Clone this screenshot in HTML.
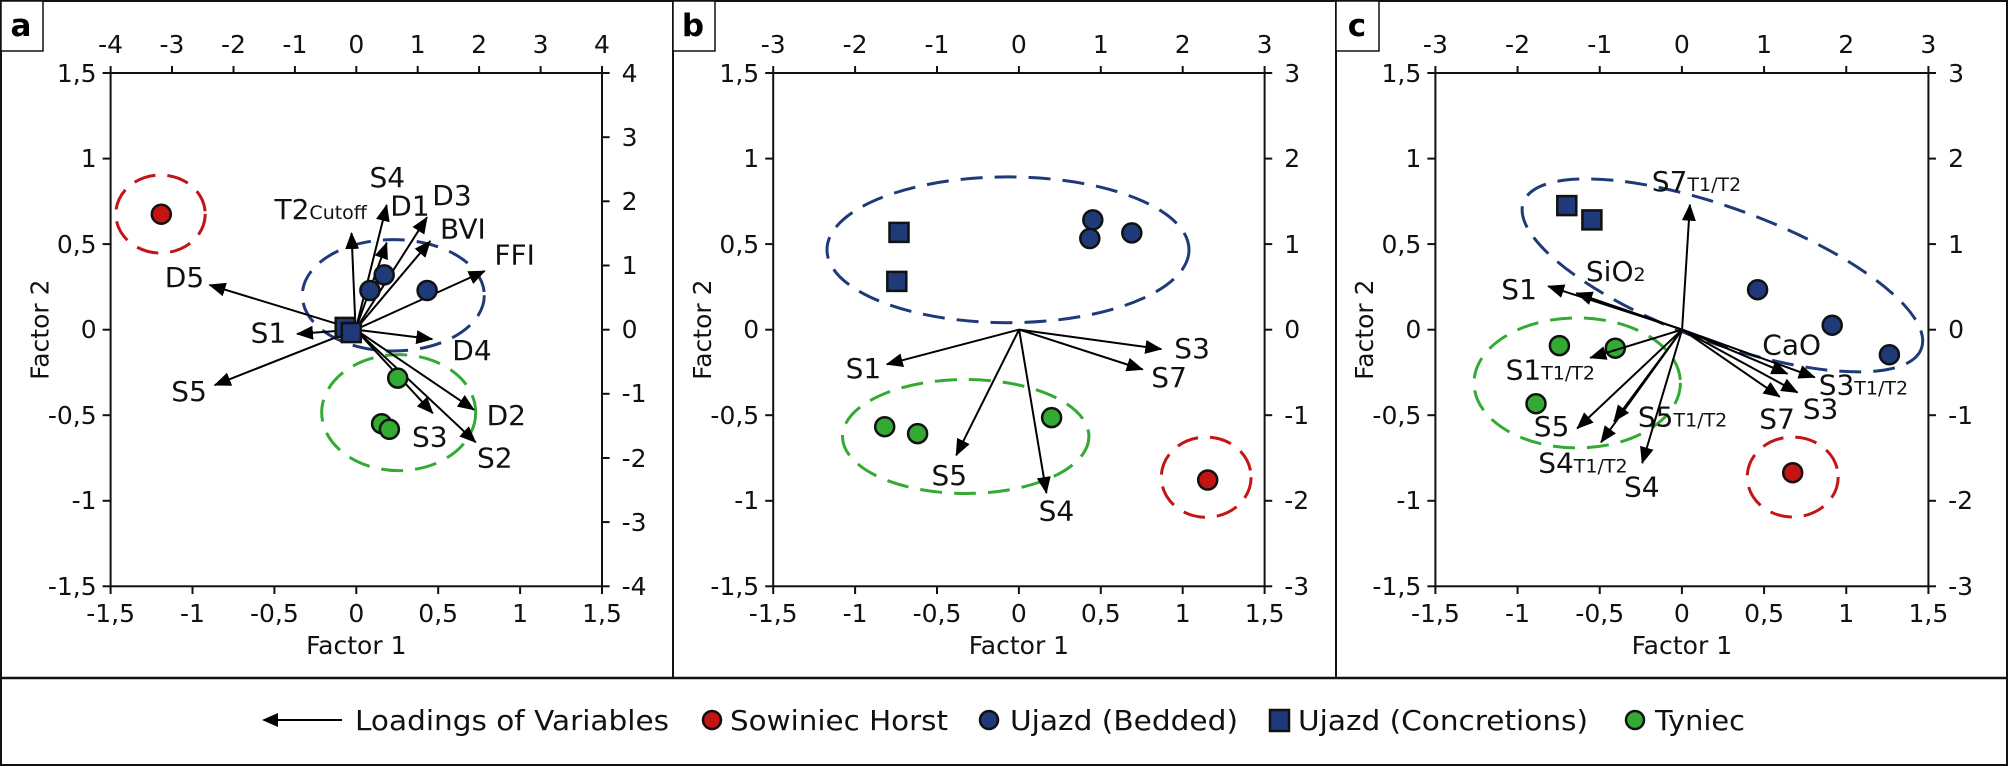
<!DOCTYPE html>
<html><head><meta charset="utf-8"><style>
html,body{margin:0;padding:0;background:#fff;}
svg{display:block;font-family:"DejaVu Sans","Liberation Sans",sans-serif;}
.t{font-size:25px;fill:#111;}
.l{font-size:28px;fill:#111;}
.s{font-size:19px;fill:#111;}
.ax line{stroke:#111;stroke-width:2;}
.ar{stroke:#000;stroke-width:2;marker-end:url(#ah);fill:none;}
.cb{fill:#1f3a78;stroke:#111;stroke-width:2.5;}
.cg{fill:#33aa33;stroke:#111;stroke-width:2.5;}
.cr{fill:#c41414;stroke:#111;stroke-width:2.5;}
.eb{fill:none;stroke:#1f3a78;stroke-width:3;stroke-dasharray:22 12;}
.eg{fill:none;stroke:#33aa33;stroke-width:3;stroke-dasharray:22 12;}
.er{fill:none;stroke:#c41414;stroke-width:3;stroke-dasharray:22 12;}
</style></head><body>
<svg width="2008" height="767" viewBox="0 0 2008 767" xmlns="http://www.w3.org/2000/svg">
<defs>
<marker id="ah" markerUnits="userSpaceOnUse" markerWidth="18" markerHeight="14" refX="16" refY="7" orient="auto">
<path d="M0,0 L17,7 L0,14 Z" fill="#000"/>
</marker>
<g id="frame">
<rect x="0" y="73" width="491.4" height="513.3" fill="none" stroke="#111" stroke-width="2"/>
<g class="ax">
<line x1="0" y1="586" x2="0" y2="594"/><line x1="81.9" y1="586" x2="81.9" y2="594"/><line x1="163.8" y1="586" x2="163.8" y2="594"/><line x1="245.7" y1="586" x2="245.7" y2="594"/><line x1="327.6" y1="586" x2="327.6" y2="594"/><line x1="409.5" y1="586" x2="409.5" y2="594"/><line x1="491.4" y1="586" x2="491.4" y2="594"/>
<line x1="-8" y1="73" x2="0" y2="73"/><line x1="-8" y1="158.6" x2="0" y2="158.6"/><line x1="-8" y1="244.1" x2="0" y2="244.1"/><line x1="-8" y1="329.7" x2="0" y2="329.7"/><line x1="-8" y1="415.2" x2="0" y2="415.2"/><line x1="-8" y1="500.8" x2="0" y2="500.8"/><line x1="-8" y1="586.3" x2="0" y2="586.3"/>
</g>
<g class="t" text-anchor="middle">
<text x="0" y="622">-1,5</text><text x="81.9" y="622">-1</text><text x="163.8" y="622">-0,5</text><text x="245.7" y="622">0</text><text x="327.6" y="622">0,5</text><text x="409.5" y="622">1</text><text x="491.4" y="622">1,5</text>
</g>
<g class="t" text-anchor="end">
<text x="-14" y="82">1,5</text><text x="-14" y="167">1</text><text x="-14" y="253">0,5</text><text x="-14" y="338">0</text><text x="-14" y="424">-0,5</text><text x="-14" y="509">-1</text><text x="-14" y="595">-1,5</text>
</g>
<text class="t" x="245.7" y="654" text-anchor="middle">Factor 1</text>
<text class="t" transform="translate(-62,329.7) rotate(-90)" text-anchor="middle">Factor 2</text>
</g>
</defs>

<rect x="1" y="1" width="2006" height="764" fill="none" stroke="#111" stroke-width="2"/>
<line x1="0" y1="678" x2="2008" y2="678" stroke="#111" stroke-width="2.5"/>
<line x1="673" y1="0" x2="673" y2="678" stroke="#111" stroke-width="2"/>
<line x1="1336" y1="0" x2="1336" y2="678" stroke="#111" stroke-width="2"/>

<rect x="1" y="1" width="42" height="50" fill="#fff" stroke="#111" stroke-width="1.5"/>
<text x="21" y="36" text-anchor="middle" style="font-size:31px;font-weight:bold">a</text>
<rect x="673" y="1" width="42" height="50" fill="#fff" stroke="#111" stroke-width="1.5"/>
<text x="693" y="36" text-anchor="middle" style="font-size:31px;font-weight:bold">b</text>
<rect x="1336" y="1" width="43" height="50" fill="#fff" stroke="#111" stroke-width="1.5"/>
<text x="1357" y="36" text-anchor="middle" style="font-size:31px;font-weight:bold">c</text>

<!-- Panel a -->
<g transform="translate(110.6,0)">
<use href="#frame"/>
<g class="ax">
<line x1="0" y1="73" x2="0" y2="66"/><line x1="61.4" y1="73" x2="61.4" y2="66"/><line x1="122.9" y1="73" x2="122.9" y2="66"/><line x1="184.3" y1="73" x2="184.3" y2="66"/><line x1="245.7" y1="73" x2="245.7" y2="66"/><line x1="307.1" y1="73" x2="307.1" y2="66"/><line x1="368.5" y1="73" x2="368.5" y2="66"/><line x1="430" y1="73" x2="430" y2="66"/><line x1="491.4" y1="73" x2="491.4" y2="66"/>
<line x1="491.4" y1="73" x2="499" y2="73"/><line x1="491.4" y1="137.2" x2="499" y2="137.2"/><line x1="491.4" y1="201.3" x2="499" y2="201.3"/><line x1="491.4" y1="265.5" x2="499" y2="265.5"/><line x1="491.4" y1="329.7" x2="499" y2="329.7"/><line x1="491.4" y1="393.8" x2="499" y2="393.8"/><line x1="491.4" y1="458" x2="499" y2="458"/><line x1="491.4" y1="522.1" x2="499" y2="522.1"/><line x1="491.4" y1="586.3" x2="499" y2="586.3"/>
</g>
<g class="t" text-anchor="middle">
<text x="0" y="53">-4</text><text x="61.4" y="53">-3</text><text x="122.9" y="53">-2</text><text x="184.3" y="53">-1</text><text x="245.7" y="53">0</text><text x="307.1" y="53">1</text><text x="368.5" y="53">2</text><text x="430" y="53">3</text><text x="491.4" y="53">4</text>
</g>
<g class="t">
<text x="511" y="82">4</text><text x="511" y="146">3</text><text x="511" y="210">2</text><text x="511" y="274">1</text><text x="511" y="338">0</text><text x="511" y="402">-1</text><text x="511" y="467">-2</text><text x="511" y="531">-3</text><text x="511" y="595">-4</text>
</g>
</g>
<g>
<ellipse class="er" cx="160.5" cy="214" rx="44.7" ry="39"/>
<ellipse class="eb" cx="393.3" cy="295.3" rx="91" ry="55.7"/>
<ellipse class="eg" cx="398.7" cy="412.6" rx="77" ry="58"/>
<circle class="cr" cx="161.3" cy="214.2" r="9.5"/>
<line class="ar" x1="355.6" y1="329.6" x2="351.5" y2="233"/>
<line class="ar" x1="355.6" y1="329.6" x2="386.7" y2="205"/>
<line class="ar" x1="355.6" y1="329.6" x2="386.7" y2="242.7"/>
<line class="ar" x1="355.6" y1="329.6" x2="427" y2="217.3"/>
<line class="ar" x1="355.6" y1="329.6" x2="430.3" y2="241"/>
<line class="ar" x1="355.6" y1="329.6" x2="484.8" y2="271"/>
<line class="ar" x1="355.6" y1="329.6" x2="209.5" y2="284.9"/>
<line class="ar" x1="355.6" y1="329.6" x2="297" y2="333.9"/>
<line class="ar" x1="355.6" y1="329.6" x2="432.3" y2="339.1"/>
<line class="ar" x1="355.6" y1="329.6" x2="214.7" y2="385.1"/>
<line class="ar" x1="355.6" y1="329.6" x2="432.8" y2="413.3"/>
<line class="ar" x1="355.6" y1="329.6" x2="474" y2="409.8"/>
<line class="ar" x1="355.6" y1="329.6" x2="475.7" y2="442.3"/>
<circle class="cb" cx="369.9" cy="290.5" r="9.5"/>
<circle class="cb" cx="384.2" cy="274.9" r="9.5"/>
<circle class="cb" cx="427.1" cy="290.5" r="9.5"/>
<rect class="cb" x="335.7" y="317.9" width="19" height="19"/>
<rect class="cb" x="341.8" y="323.1" width="19" height="19"/>
<circle class="cg" cx="397.7" cy="378.1" r="9.5"/>
<circle class="cg" cx="381.6" cy="423.7" r="9.5"/>
<circle class="cg" cx="389.4" cy="429.3" r="9.5"/>
<g class="l">
<text x="369.5" y="187">S4</text>
<text x="274.5" y="219">T2<tspan style="font-size:19px">Cutoff</tspan></text>
<text x="390.3" y="215.5">D1</text>
<text x="432.3" y="205">D3</text>
<text x="440" y="238.5">BVI</text>
<text x="494.4" y="264.5">FFI</text>
<text x="164.8" y="287">D5</text>
<text x="250.6" y="342.6">S1</text>
<text x="452.3" y="360">D4</text>
<text x="171.3" y="401">S5</text>
<text x="486.6" y="425">D2</text>
<text x="412" y="446.7">S3</text>
<text x="477" y="467.5">S2</text>
</g>
</g>

<!-- Panel b -->
<g transform="translate(773.2,0)">
<use href="#frame"/>
<g class="ax">
<line x1="0" y1="73" x2="0" y2="66"/><line x1="81.9" y1="73" x2="81.9" y2="66"/><line x1="163.8" y1="73" x2="163.8" y2="66"/><line x1="245.7" y1="73" x2="245.7" y2="66"/><line x1="327.6" y1="73" x2="327.6" y2="66"/><line x1="409.5" y1="73" x2="409.5" y2="66"/><line x1="491.4" y1="73" x2="491.4" y2="66"/>
<line x1="491.4" y1="73" x2="499" y2="73"/><line x1="491.4" y1="158.6" x2="499" y2="158.6"/><line x1="491.4" y1="244.1" x2="499" y2="244.1"/><line x1="491.4" y1="329.7" x2="499" y2="329.7"/><line x1="491.4" y1="415.2" x2="499" y2="415.2"/><line x1="491.4" y1="500.8" x2="499" y2="500.8"/><line x1="491.4" y1="586.3" x2="499" y2="586.3"/>
</g>
<g class="t" text-anchor="middle">
<text x="0" y="53">-3</text><text x="81.9" y="53">-2</text><text x="163.8" y="53">-1</text><text x="245.7" y="53">0</text><text x="327.6" y="53">1</text><text x="409.5" y="53">2</text><text x="491.4" y="53">3</text>
</g>
<g class="t">
<text x="511" y="82">3</text><text x="511" y="167">2</text><text x="511" y="253">1</text><text x="511" y="338">0</text><text x="511" y="424">-1</text><text x="511" y="509">-2</text><text x="511" y="595">-3</text>
</g>
</g>
<g>
<ellipse class="eb" cx="1008" cy="249.8" rx="181" ry="72.9"/>
<ellipse class="eg" cx="965.7" cy="436.5" rx="123.2" ry="57"/>
<ellipse class="er" cx="1206.2" cy="477.2" rx="44.9" ry="40.1"/>
<rect class="cb" x="889.5" y="222.9" width="19" height="19"/>
<rect class="cb" x="887.3" y="271.9" width="19" height="19"/>
<circle class="cb" cx="1092.8" cy="219.9" r="9.5"/>
<circle class="cb" cx="1089.8" cy="238.5" r="9.5"/>
<circle class="cb" cx="1131.8" cy="232.9" r="9.5"/>
<circle class="cg" cx="884.7" cy="426.7" r="9.5"/>
<circle class="cg" cx="917.6" cy="433.6" r="9.5"/>
<circle class="cg" cx="1051.6" cy="417.6" r="9.5"/>
<circle class="cr" cx="1207.7" cy="480" r="9.5"/>
<line class="ar" x1="1019.1" y1="329.6" x2="886.8" y2="364.3"/>
<line class="ar" x1="1019.1" y1="329.6" x2="956.2" y2="455.3"/>
<line class="ar" x1="1019.1" y1="329.6" x2="1046.4" y2="493"/>
<line class="ar" x1="1019.1" y1="329.6" x2="1161.3" y2="349.1"/>
<line class="ar" x1="1019.1" y1="329.6" x2="1142.7" y2="369.5"/>
<g class="l">
<text x="845.6" y="378">S1</text>
<text x="931.5" y="485">S5</text>
<text x="1038.6" y="520.4">S4</text>
<text x="1174.3" y="358.2">S3</text>
<text x="1151.3" y="387.2">S7</text>
</g>
</g>

<!-- Panel c -->
<g transform="translate(1435.4,0) scale(1.0033,1)">
<use href="#frame"/>
<g class="ax">
<line x1="0" y1="73" x2="0" y2="66"/><line x1="81.9" y1="73" x2="81.9" y2="66"/><line x1="163.8" y1="73" x2="163.8" y2="66"/><line x1="245.7" y1="73" x2="245.7" y2="66"/><line x1="327.6" y1="73" x2="327.6" y2="66"/><line x1="409.5" y1="73" x2="409.5" y2="66"/><line x1="491.4" y1="73" x2="491.4" y2="66"/>
<line x1="491.4" y1="73" x2="499" y2="73"/><line x1="491.4" y1="158.6" x2="499" y2="158.6"/><line x1="491.4" y1="244.1" x2="499" y2="244.1"/><line x1="491.4" y1="329.7" x2="499" y2="329.7"/><line x1="491.4" y1="415.2" x2="499" y2="415.2"/><line x1="491.4" y1="500.8" x2="499" y2="500.8"/><line x1="491.4" y1="586.3" x2="499" y2="586.3"/>
</g>
<g class="t" text-anchor="middle">
<text x="0" y="53">-3</text><text x="81.9" y="53">-2</text><text x="163.8" y="53">-1</text><text x="245.7" y="53">0</text><text x="327.6" y="53">1</text><text x="409.5" y="53">2</text><text x="491.4" y="53">3</text>
</g>
<g class="t">
<text x="511" y="82">3</text><text x="511" y="167">2</text><text x="511" y="253">1</text><text x="511" y="338">0</text><text x="511" y="424">-1</text><text x="511" y="509">-2</text><text x="511" y="595">-3</text>
</g>
</g>
<g>
<ellipse class="eb" cx="1722.4" cy="275.4" rx="212" ry="67" transform="rotate(20.2 1722.4 275.4)"/>
<ellipse class="eg" cx="1577.2" cy="382.9" rx="103.2" ry="65"/>
<ellipse class="er" cx="1792.7" cy="477" rx="45.5" ry="40"/>
<rect class="cb" x="1557.3" y="196.1" width="19" height="19"/>
<rect class="cb" x="1582.4" y="210.4" width="19" height="19"/>
<circle class="cb" cx="1757.6" cy="289.7" r="9.5"/>
<circle class="cb" cx="1832.2" cy="325.2" r="9.5"/>
<circle class="cb" cx="1889.4" cy="354.7" r="9.5"/>
<circle class="cg" cx="1559.4" cy="345.6" r="9.5"/>
<circle class="cg" cx="1615.3" cy="348.2" r="9.5"/>
<circle class="cg" cx="1536" cy="403.7" r="9.5"/>
<circle class="cr" cx="1792.7" cy="472.7" r="9.5"/>
<line class="ar" x1="1682.1" y1="329.6" x2="1689.9" y2="204.7"/>
<line class="ar" x1="1682.1" y1="329.6" x2="1548.1" y2="286.2"/>
<line class="ar" x1="1682.1" y1="329.6" x2="1576.3" y2="293.1"/>
<line class="ar" x1="1682.1" y1="329.6" x2="1590.2" y2="357.8"/>
<line class="ar" x1="1682.1" y1="329.6" x2="1577.2" y2="428.4"/>
<line class="ar" x1="1682.1" y1="329.6" x2="1614" y2="421.5"/>
<line class="ar" x1="1682.1" y1="329.6" x2="1601" y2="442.3"/>
<line class="ar" x1="1682.1" y1="329.6" x2="1642.2" y2="463.1"/>
<line class="ar" x1="1682.1" y1="329.6" x2="1787.5" y2="373.8"/>
<line class="ar" x1="1682.1" y1="329.6" x2="1814.8" y2="377.3"/>
<line class="ar" x1="1682.1" y1="329.6" x2="1797.5" y2="392.5"/>
<line class="ar" x1="1682.1" y1="329.6" x2="1779.7" y2="396.8"/>
<g class="l">
<text x="1651.8" y="191">S7<tspan style="font-size:19px">T1/T2</tspan></text>
<text x="1585.9" y="281">SiO<tspan style="font-size:19px">2</tspan></text>
<text x="1501.3" y="299.2">S1</text>
<text x="1762.3" y="354.7">CaO</text>
<text x="1505.6" y="379.4">S1<tspan style="font-size:19px">T1/T2</tspan></text>
<text x="1818.7" y="394.6">S3<tspan style="font-size:19px">T1/T2</tspan></text>
<text x="1802.7" y="418.5">S3</text>
<text x="1533.8" y="435.8">S5</text>
<text x="1637.9" y="426.3">S5<tspan style="font-size:19px">T1/T2</tspan></text>
<text x="1759.3" y="428.4">S7</text>
<text x="1538.2" y="472.7">S4<tspan style="font-size:19px">T1/T2</tspan></text>
<text x="1624" y="496.5">S4</text>
</g>
</g>

<!-- Legend -->
<g>
<line x1="342" y1="720" x2="268" y2="720" stroke="#000" stroke-width="2"/>
<path d="M262,720 L278,713 L278,727 Z" fill="#000"/>
<text class="l" x="355" y="730" textLength="314" lengthAdjust="spacingAndGlyphs">Loadings of Variables</text>
<circle class="cr" cx="712" cy="720" r="9"/>
<text class="l" x="730" y="730" textLength="218" lengthAdjust="spacingAndGlyphs">Sowiniec Horst</text>
<circle class="cb" cx="989" cy="720" r="9"/>
<text class="l" x="1010" y="730" textLength="228" lengthAdjust="spacingAndGlyphs">Ujazd (Bedded)</text>
<rect class="cb" x="1270" y="710" width="19" height="21"/>
<text class="l" x="1298" y="730" textLength="290" lengthAdjust="spacingAndGlyphs">Ujazd (Concretions)</text>
<circle class="cg" cx="1635" cy="720" r="9"/>
<text class="l" x="1655" y="730" textLength="90" lengthAdjust="spacingAndGlyphs">Tyniec</text>
</g>
</svg>
</body></html>
